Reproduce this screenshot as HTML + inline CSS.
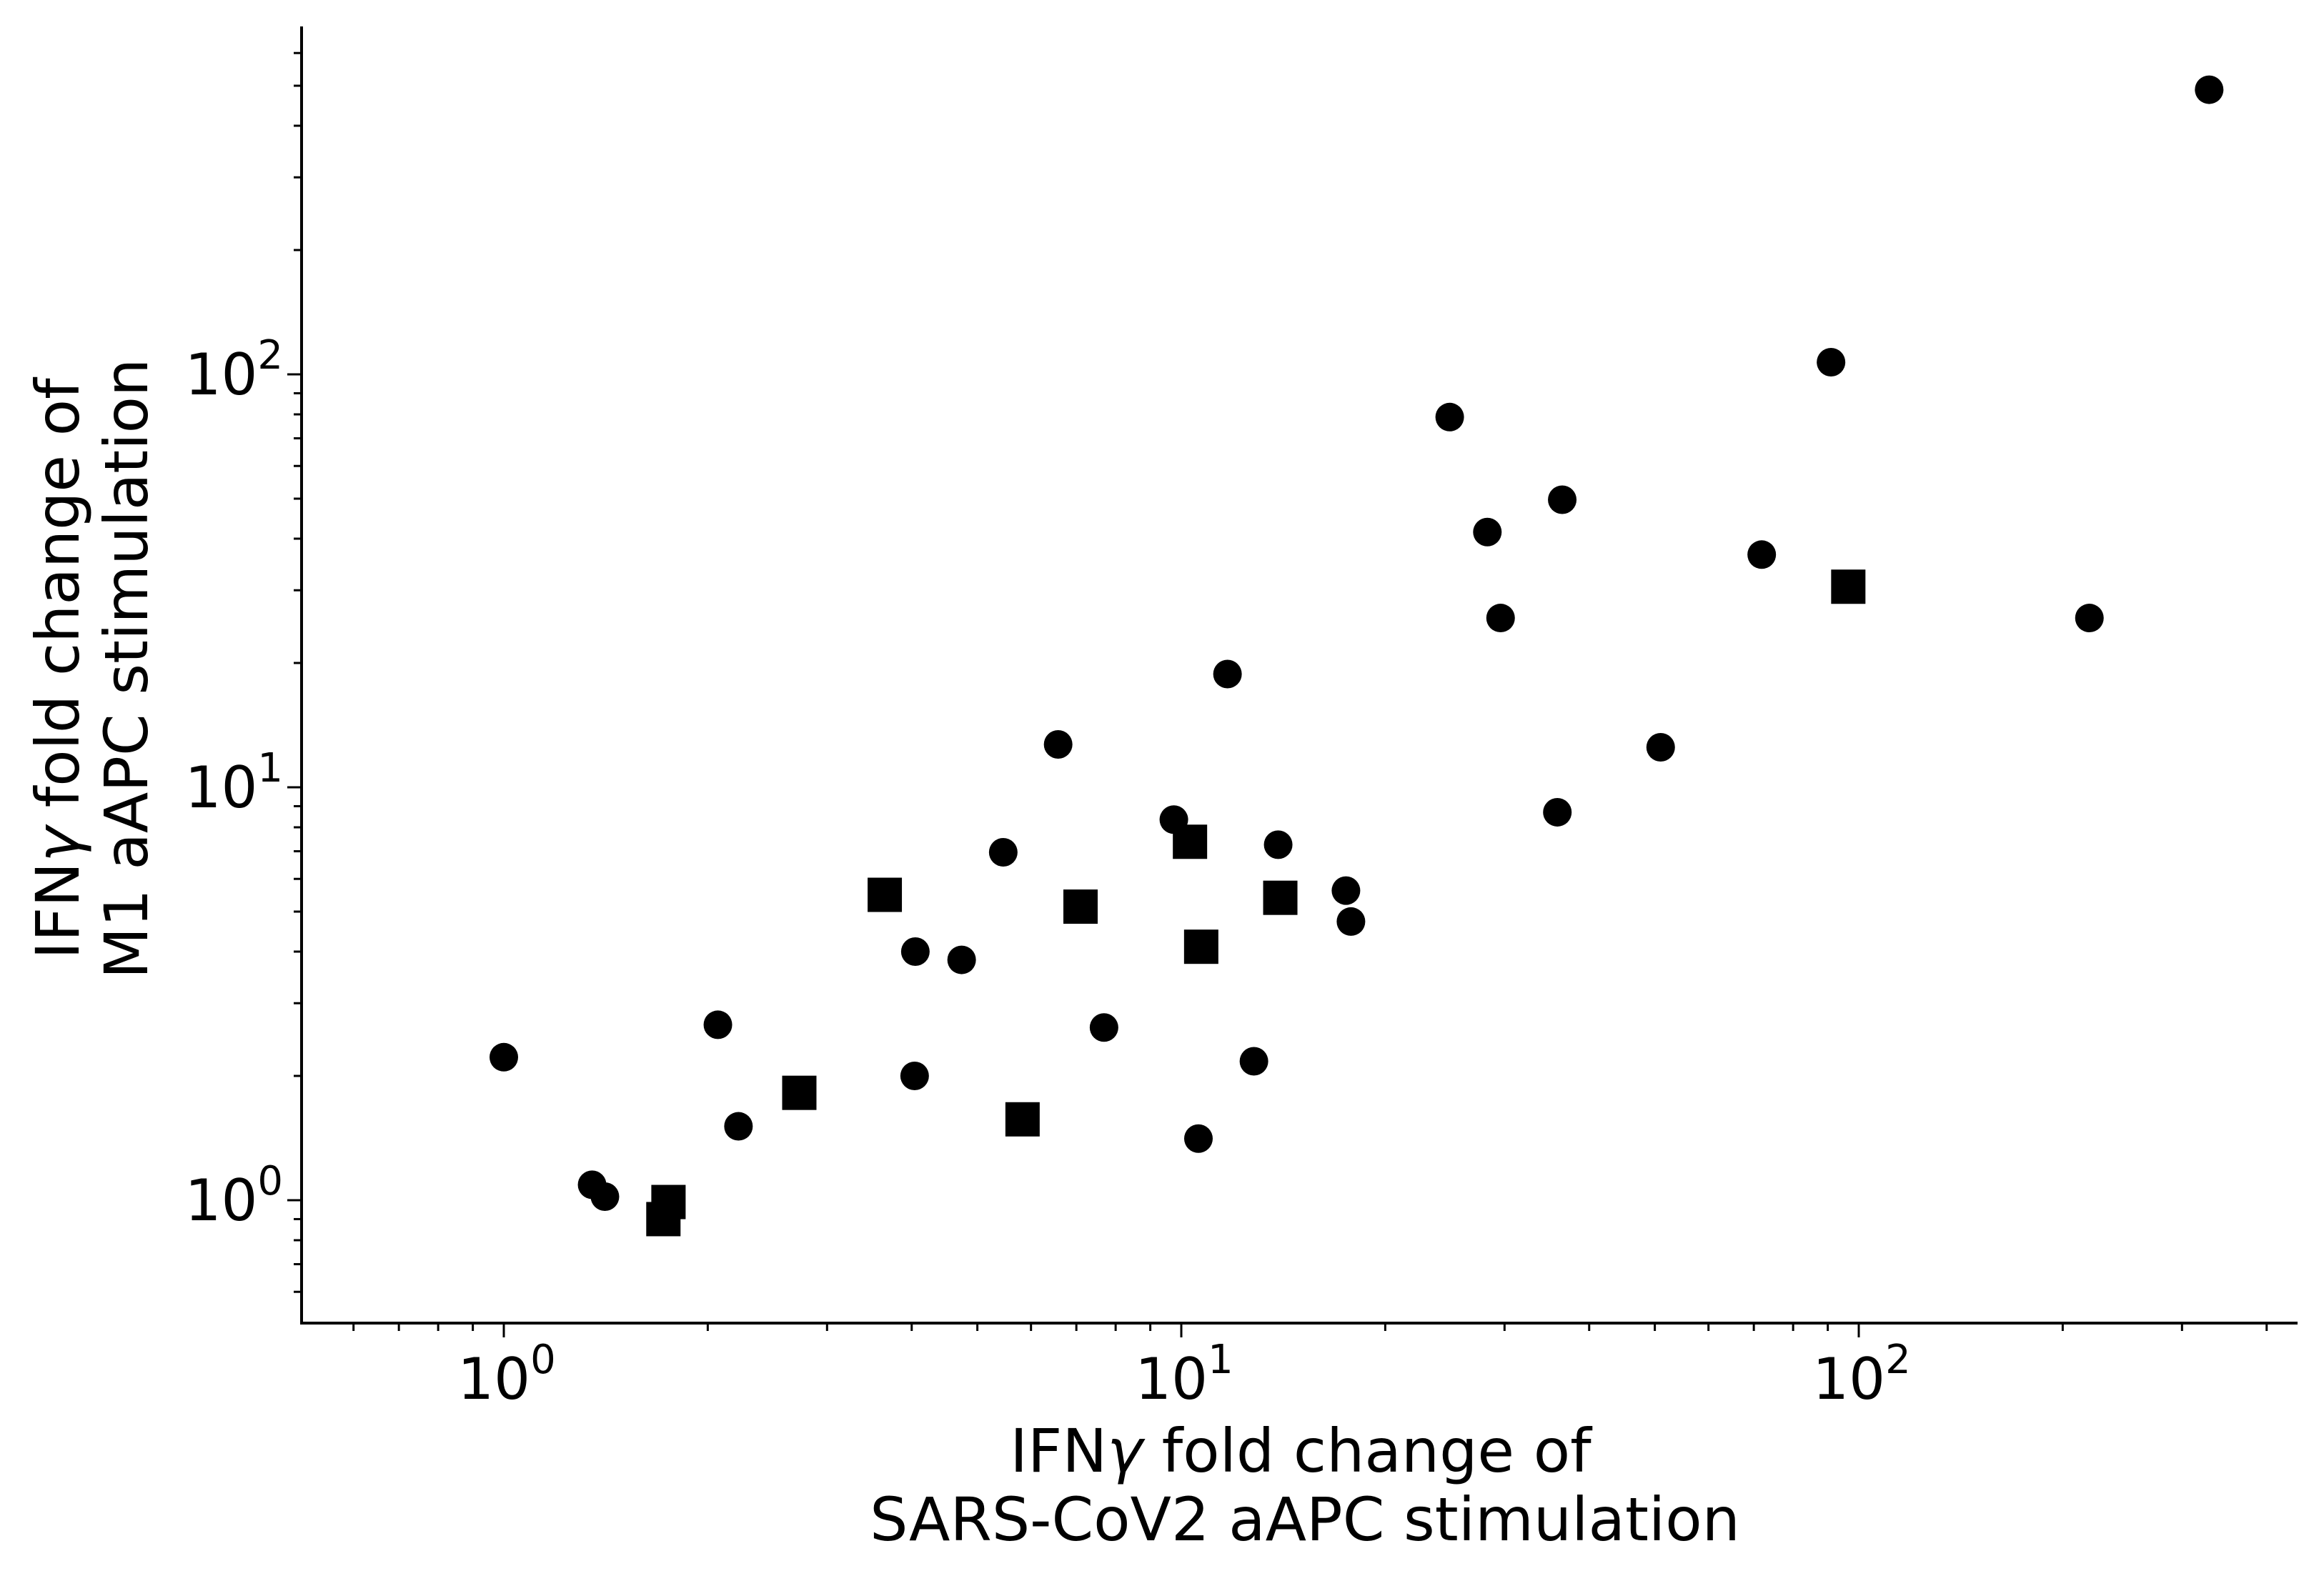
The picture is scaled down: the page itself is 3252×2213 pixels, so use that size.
<!DOCTYPE html>
<html><head><meta charset="utf-8"><style>
html,body{margin:0;padding:0;background:#fff;}
svg{display:block;font-family:"DejaVu Sans","Liberation Sans",sans-serif;}
</style></head><body>
<svg id="chart" width="3252" height="2213" viewBox="0 0 3252 2213" xmlns="http://www.w3.org/2000/svg">
<rect width="3252" height="2213" fill="#fff"/>
<g id="marks"></g>
<g id="axes"></g>
<text x="1820" y="2060" font-size="84" text-anchor="middle">IFN<tspan font-style="italic">γ</tspan> fold change of</text>
<text x="1826" y="2156" font-size="84" text-anchor="middle">SARS-CoV2 aAPC stimulation</text>
<g transform="translate(110,936) rotate(-90)">
<text x="0" y="0" font-size="84" text-anchor="middle">IFN<tspan font-style="italic">γ</tspan> fold change of</text>
<text x="0" y="96" font-size="84" text-anchor="middle">M1 aAPC stimulation</text>
</g>
</svg>
<script>
const circleX=[1.0,1.35,1.41,2.07,2.22,4.04,4.05,4.74,5.46,6.58,7.69,9.75,10.6,11.7,12.8,13.9,17.5,17.8,24.9,28.3,29.6,35.9,36.5,51,71.9,91,219,329];
const circleY=[2.22,1.09,1.02,2.66,1.51,2.0,4.0,3.82,6.96,12.7,2.62,8.35,1.41,18.8,2.17,7.26,5.62,4.73,78.8,41.5,25.7,8.7,49.7,12.5,36.6,107,25.7,489];
const squareX=[1.72,1.75,2.73,3.65,5.83,7.1,10.3,10.7,14.0,96.5];
const squareY=[0.90,0.99,1.82,5.49,1.57,5.14,7.38,4.11,5.4,30.6];
const xMajor=[1,10,100];
const yMajor=[1,10,100];
const xTickLabels=["0","1","2"];
const yTickLabels=["0","1","2"];

const NS="http://www.w3.org/2000/svg";
const X0=705, XD=948, Y0=1680, YD=578;
const L=422, R=3215, T=37, B=1852;
function sx(v){return X0+Math.log10(v)*XD;}
function sy(v){return Y0-Math.log10(v)*YD;}
function mk(tag,attrs,parent){const e=document.createElementNS(NS,tag);for(const k in attrs)e.setAttribute(k,attrs[k]);parent.appendChild(e);return e;}
const marks=document.getElementById('marks'), axes=document.getElementById('axes');
circleX.forEach((v,i)=>{
  const c=mk('circle',{cx:sx(v),cy:sy(circleY[i]),r:20,fill:'#000'},marks);
  
  
});
squareX.forEach((v,i)=>{
  const s=mk('rect',{x:sx(v)-24,y:sy(squareY[i])-24,width:48,height:48,fill:'#000'},marks);
  
  
});
const ya=mk('line',{x1:L,y1:T,x2:L,y2:B+2,stroke:'#000','stroke-width':4},axes);


const xa=mk('line',{x1:L-2,y1:B,x2:R,y2:B,stroke:'#000','stroke-width':4},axes);


for(let d=-1;d<=2;d++){for(let m=1;m<=9;m++){const v=m*Math.pow(10,d);
  const px=sx(v); if(px>=L-1&&px<=R){const len=(m===1)?20:11;
    const t=mk('line',{x1:px,y1:B,x2:px,y2:B+len,stroke:'#000','stroke-width':3},axes);
    
    }
  const py=sy(v); if(py>=T&&py<=B+1){const len=(m===1)?20:11;
    const t=mk('line',{x1:L,y1:py,x2:L-len,y2:py,stroke:'#000','stroke-width':3},axes);
    
    }
}}
xMajor.forEach((v,i)=>{
  const t=mk('text',{x:sx(v)+4,y:1958,'font-size':80,'text-anchor':'middle'},axes);
  
  
  t.textContent='10';
  const s=mk('tspan',{'font-size':56,dy:-36},t);s.textContent=xTickLabels[i];
});
yMajor.forEach((v,i)=>{
  const t=mk('text',{x:396,y:sy(v)+28,'font-size':80,'text-anchor':'end'},axes);
  
  
  t.textContent='10';
  const s=mk('tspan',{'font-size':56,dy:-36},t);s.textContent=yTickLabels[i];
});
</script>
</body></html>
